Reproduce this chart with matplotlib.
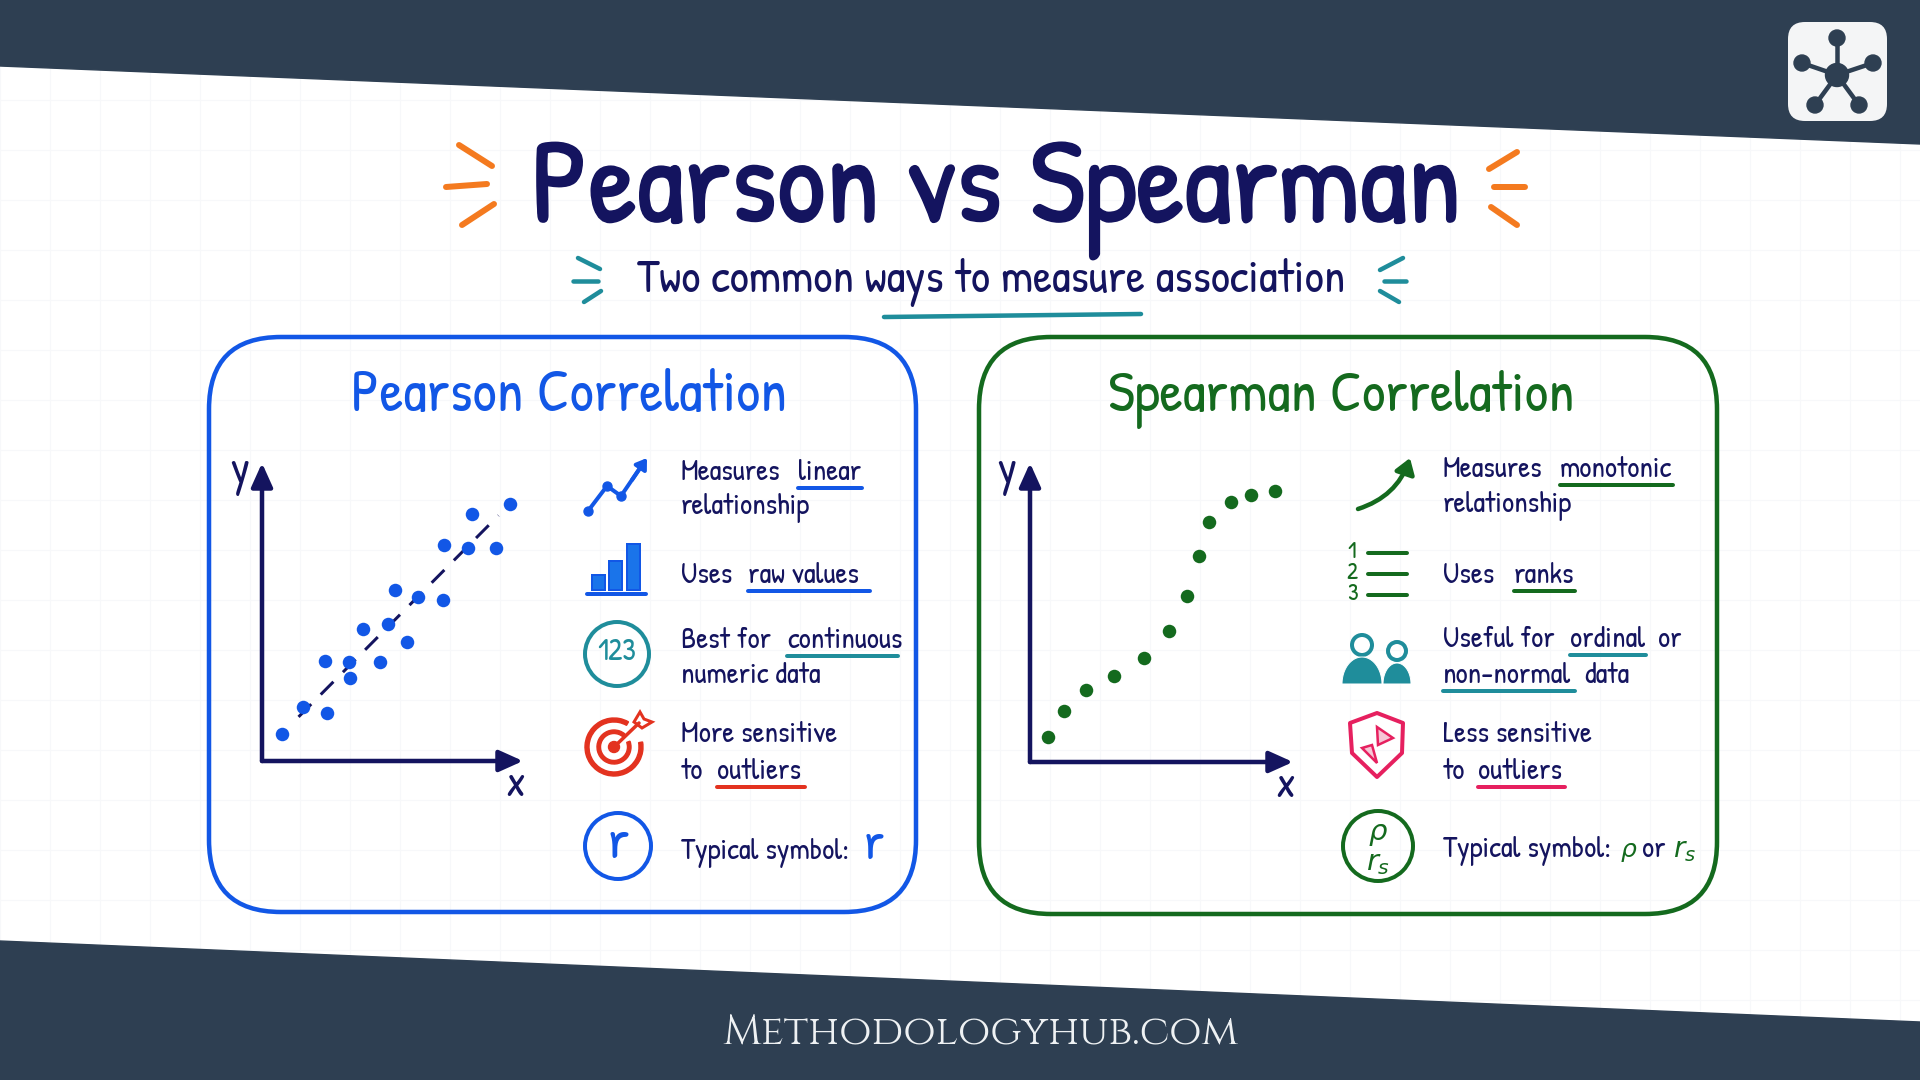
"""
Pearson vs Spearman explainer card.
The whole picture is laid out on an overlay axes in pixels, the two small
scatter plots are real axes on a 0-100 scale.
"""

import numpy as np
import matplotlib
matplotlib.use('Agg')
import matplotlib.pyplot as plt
from matplotlib.patches import Circle, FancyArrowPatch, FancyBboxPatch, Polygon, Rectangle, Wedge
from matplotlib import patheffects as pe

HAND = ['Patrick Hand', 'Liberation Sans Narrow', 'DejaVu Sans']
FOOT = ['Cinzel', 'Liberation Serif']

NAVY = '#14145f'
BAND = '#2e3f52'
BLUE = '#1257e6'
GREEN = '#146a1e'
TEAL = '#1f8d9b'
RED = '#e3321f'
PINK = '#e6205f'
ORANGE = '#f47a1f'

# Scatter values (0-100 on both axes).
pearsonX = [7.8, 15.7, 25.0, 24.1, 33.4, 33.9, 38.8, 48.1, 45.4, 55.4, 51.0, 59.8, 69.4, 69.8, 79.0, 89.7, 80.4, 95.0]
pearsonY = [9.1, 18.0, 16.1, 33.4, 33.3, 27.7, 44.4, 45.9, 33.1, 39.9, 57.4, 54.9, 54.0, 72.6, 71.4, 71.6, 82.8, 86.4]
trendX = [14.0, 90.6]
trendY = [14.8, 82.4]
spearmanX = [6.7, 13.0, 21.4, 32.0, 43.4, 53.0, 59.7, 64.1, 68.1, 76.6, 84.1, 93.0]
spearmanY = [8.4, 17.1, 24.1, 28.6, 34.9, 43.9, 55.6, 68.9, 80.3, 86.9, 89.3, 90.8]

# Small bar icon heights.
iconBars = [15, 29, 46]

# Text runs: (text, x, baseline, underline end or None).
pearsonText = [
    ('Measures', 681, 480, None), ('linear', 798, 480, 862),
    ('relationship', 681, 514, None),
    ('Uses', 681, 583, None), ('raw values', 748, 583, 870),
    ('Best for', 681, 648, None), ('continuous', 787, 648, 898),
    ('numeric data', 681, 683, None),
    ('More sensitive', 681, 742, None),
    ('to', 681, 779, None), ('outliers', 717, 779, 805),
    ('Typical symbol:', 681, 859, None),
]
pearsonLines = [BLUE, BLUE, TEAL, RED]
spearmanText = [
    ('Measures', 1443, 477, None), ('monotonic', 1560, 477, 1673),
    ('relationship', 1443, 512, None),
    ('Uses', 1443, 583, None), ('ranks', 1514, 583, 1575),
    ('Useful for', 1443, 647, None), ('ordinal', 1570, 647, 1646), ('or', 1658, 647, None),
    ('non-normal', 1443, 683, 1575), ('data', 1584, 683, None),
    ('Less sensitive', 1443, 742, None),
    ('to', 1443, 779, None), ('outliers', 1478, 779, 1565),
    ('Typical symbol:', 1443, 857, None),
    ('or', 1642, 857, None),
]
spearmanLines = [GREEN, GREEN, TEAL, TEAL, PINK]


def pt(px):
    """Pixel size to points at 100 dpi."""
    return px * 0.72


def fit_text(fig, ax, x, y, s, width, size=60, **kw):
    """Writes s with its left end at x, sized so it is width pixels wide."""
    t = ax.text(x, y, s, fontsize=size, va='baseline', ha='left', **kw)
    w = t.get_window_extent(fig.canvas.get_renderer()).width
    t.set_fontsize(size * width / w)
    return t


def stroke(ax, x0, y0, x1, y1, color, lw=6):
    ax.plot([x0, x1], [y0, y1], color=color, lw=pt(lw), solid_capstyle='round')


def text_runs(ax, runs, colors, size=21.5):
    """Body text, with a hand drawn underline below the marked words."""
    lineColors = iter(colors)
    for s, x, y, end in runs:
        ax.text(x, y, s, family=HAND, fontsize=size, color=NAVY, va='baseline', ha='left')
        if end is not None:
            stroke(ax, x, y + 8, end, y + 8, next(lineColors), lw=4)


def scatter_axes(fig, left, bottom, width, height, x, y, color):
    """Small scatter axes with arrow heads in place of spines."""
    ax = fig.add_axes([left / 1920, 1 - bottom / 1080, width / 1920, height / 1080], facecolor='none', zorder=3)
    ax.set_xlim(0, 100)
    ax.set_ylim(0, 100)
    ax.axis('off')
    for end in [(100, 0), (0, 100)]:
        ax.annotate('', xy=end, xytext=(0, 0), annotation_clip=False,
                    arrowprops=dict(arrowstyle='-|>,head_length=0.8,head_width=0.36', color=NAVY, lw=pt(4.5),
                                    shrinkA=0, shrinkB=0, mutation_scale=18))
    ax.scatter(x, y, s=pt(13.5) ** 2, color=color, linewidths=0, zorder=4, clip_on=False)
    return ax


def draw_icons(ax):
    # Pearson: zigzag arrow.
    zx = [588, 607, 621, 640]
    zy = [511, 486, 496, 468]
    ax.plot(zx, zy, color=BLUE, lw=pt(4), marker='o', ms=pt(9), markevery=[0, 1, 2])
    ax.add_patch(FancyArrowPatch((632, 480), (647, 458), arrowstyle='-|>,head_length=6,head_width=4', color=BLUE,
                                 lw=pt(4), shrinkA=0, shrinkB=0))

    # Pearson: bars on a base line.
    for left, h in zip([592, 609, 627], iconBars):
        ax.add_patch(Rectangle((left, 590 - h), 13, h, facecolor='#1a74ea', edgecolor=BLUE, lw=pt(2)))
    stroke(ax, 587, 594, 646, 594, BLUE, lw=4)

    # Pearson: 123 badge.
    ax.add_patch(Circle((617, 654), 32, fill=False, edgecolor=TEAL, lw=pt(4)))
    ax.text(617, 654, '123', family=HAND, fontsize=22, color=TEAL, ha='center', va='center')

    # Pearson: target and dart.
    ax.add_patch(Wedge((614, 747), 29, -10, 300, width=4, color=RED))
    ax.add_patch(Wedge((614, 747), 17, -20, 310, width=3.5, color=RED))
    ax.add_patch(Circle((614, 747), 5.5, color=RED))
    stroke(ax, 614, 747, 639, 723, RED, lw=3.5)
    ax.add_patch(Polygon([[634, 722], [640, 712], [644, 719], [652, 722], [642, 728]], closed=True,
                         facecolor='none', edgecolor=RED, lw=pt(3)))

    # Pearson: r badge and symbol.
    ax.add_patch(Circle((618, 846), 33, fill=False, edgecolor=BLUE, lw=pt(4)))
    ax.text(618, 846, 'r', family=HAND, fontsize=40, color=BLUE, ha='center', va='center')
    ax.text(864, 859, 'r', family=HAND, fontsize=38, color=BLUE, ha='left', va='baseline')

    # Spearman: curved arrow.
    ax.add_patch(FancyArrowPatch((1358, 509), (1410, 458), connectionstyle='arc3,rad=0.25',
                                 arrowstyle='-|>,head_length=9,head_width=6', color=GREEN, lw=pt(4.5),
                                 shrinkA=0, shrinkB=0))

    # Spearman: numbered list.
    for n, y in zip(['1', '2', '3'], [553, 574, 595]):
        ax.text(1352, y, n, family=HAND, fontsize=17, color=GREEN, ha='center', va='center')
        stroke(ax, 1368, y, 1407, y, GREEN, lw=4)

    # Spearman: two people.
    for cx, headY, headR, halfW, top in [(1362, 645, 10, 20, 657), (1397, 651, 9, 14, 663)]:
        ax.add_patch(Circle((cx, headY), headR, fill=False, edgecolor=TEAL, lw=pt(4)))
        a = np.linspace(np.pi, 2 * np.pi, 40)
        ax.add_patch(Polygon(np.c_[cx + halfW * np.cos(a), 684 + (684 - top) * np.sin(a)], closed=True,
                             facecolor=TEAL, edgecolor='white', lw=pt(1)))

    # Spearman: shield.
    ax.add_patch(Polygon([[1377, 713], [1403, 723], [1402, 753], [1377, 777], [1352, 753], [1350, 723]], closed=True,
                         facecolor='none', edgecolor=PINK, lw=pt(4), joinstyle='round'))
    ax.add_patch(Polygon([[1377, 727], [1393, 738], [1378, 745]], closed=True, facecolor='#f6c6d6', edgecolor=PINK, lw=pt(2.5)))
    ax.add_patch(Polygon([[1362, 748], [1372, 745], [1377, 763]], closed=True, facecolor='#f6c6d6', edgecolor=PINK, lw=pt(2.5)))

    # Spearman: rho badge and symbols.
    ax.add_patch(Circle((1378, 846), 35, fill=False, edgecolor=GREEN, lw=pt(4)))
    ax.text(1378, 832, '\u03c1', family=['DejaVu Sans'], fontsize=21, style='italic', color=GREEN, ha='center', va='center')
    ax.text(1378, 863, '$r_s$', fontsize=21, color=GREEN, ha='center', va='center', math_fontfamily='dejavusans')
    ax.text(1621, 857, '\u03c1', family=['DejaVu Sans'], fontsize=18, style='italic', color=GREEN, ha='left', va='baseline')
    ax.text(1673, 857, '$r_s$', fontsize=20, color=GREEN, ha='left', va='baseline', math_fontfamily='dejavusans')


def draw_logo(ax):
    ax.add_patch(FancyBboxPatch((1788, 22), 99, 99, boxstyle='round,pad=0,rounding_size=17',
                                facecolor='#f4f5f6', edgecolor='none'))
    hub = (1837, 75)
    for nx, ny in [(1837, 38), (1802, 63), (1873, 63), (1815, 105), (1859, 105)]:
        ax.plot([hub[0], nx], [hub[1], ny], color=BAND, lw=pt(4.5))
        ax.add_patch(Circle((nx, ny), 8, color=BAND))
    ax.add_patch(Circle(hub, 11.5, color=BAND))


def main():
    fig = plt.figure(figsize=(19.2, 10.8), dpi=100, facecolor='white')
    ax = fig.add_axes([0, 0, 1, 1])
    ax.set_xlim(0, 1920)
    ax.set_ylim(1080, 0)
    ax.axis('off')

    # Faint paper grid and the two slanted bands.
    for gx in range(0, 1921, 50):
        ax.axvline(gx, color='#f7f8fa', lw=0.8, zorder=0)
    for gy in range(0, 1081, 50):
        ax.axhline(gy, color='#f7f8fa', lw=0.8, zorder=0)
    ax.add_patch(Polygon([[0, 0], [1920, 0], [1920, 144], [0, 66]], closed=True, color=BAND))
    ax.add_patch(Polygon([[0, 941], [1920, 1022], [1920, 1080], [0, 1080]], closed=True, color=BAND))
    draw_logo(ax)

    # Heading.
    thick = [pe.withStroke(linewidth=1.2, foreground=NAVY)]
    fit_text(fig, ax, 531, 222, 'Pearson vs Spearman', 931, family=HAND, color=NAVY, path_effects=thick)
    fit_text(fig, ax, 637, 292, 'Two common ways to measure association', 709, size=30, family=HAND, color=NAVY)
    for seg in [(459, 145, 492, 166), (446, 187, 487, 184), (462, 225, 494, 204),
                (1517, 152, 1489, 169), (1494, 187, 1525, 187), (1491, 207, 1517, 225)]:
        stroke(ax, *seg, ORANGE, lw=6)
    for seg in [(578, 258, 600, 269), (573, 281, 598, 281), (584, 302, 601, 291),
                (1403, 258, 1380, 270), (1384, 281, 1406, 281), (1380, 291, 1399, 302)]:
        stroke(ax, *seg, TEAL, lw=4.5)
    stroke(ax, 884, 317, 1141, 314, TEAL, lw=4.5)

    # Panels.
    ax.add_patch(FancyBboxPatch((209, 337), 707, 575, boxstyle='round,pad=0,rounding_size=72',
                                facecolor='none', edgecolor=BLUE, lw=pt(4.5)))
    ax.add_patch(FancyBboxPatch((979, 337), 738, 577, boxstyle='round,pad=0,rounding_size=72',
                                facecolor='none', edgecolor=GREEN, lw=pt(4.5)))
    fit_text(fig, ax, 351, 411, 'Pearson Correlation', 436, size=40, family=HAND, color=BLUE)
    fit_text(fig, ax, 1108, 411, 'Spearman Correlation', 466, size=40, family=HAND, color=GREEN)

    # Scatter plots.
    left = scatter_axes(fig, 262, 761, 261, 298, pearsonX, pearsonY, BLUE)
    left.plot(trendX, trendY, color=NAVY, lw=pt(3), linestyle=(0, (6, 4.5)), zorder=2)
    scatter_axes(fig, 1030, 762, 263, 299, spearmanX, spearmanY, GREEN)
    for s, x, y in [('y', 240, 473), ('x', 515, 787), ('y', 1007, 473), ('x', 1285, 788)]:
        ax.text(x, y, s, family=HAND, fontsize=32, color=NAVY, ha='center', va='center')

    text_runs(ax, pearsonText, pearsonLines)
    text_runs(ax, spearmanText, spearmanLines)
    draw_icons(ax)

    # Footer.
    fit_text(fig, ax, 722, 1044, 'Methodologyhub.com', 516, size=30, family=FOOT, color='#eef1f3')

    fig.savefig('out.png', dpi=100, facecolor='white')


if __name__ == '__main__':
    main()
